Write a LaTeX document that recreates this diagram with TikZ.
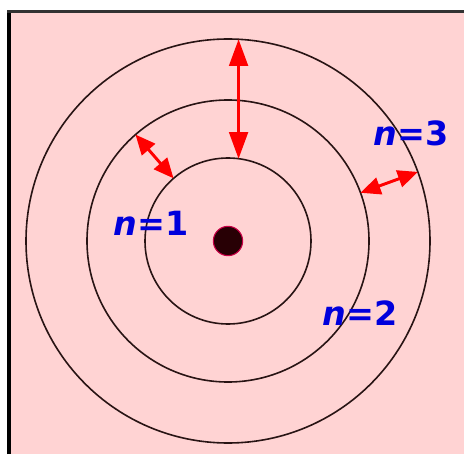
\documentclass[tikz,border=0pt]{standalone}
\usepackage{fontspec}
\setmainfont{DejaVu Sans}
\usetikzlibrary{arrows.meta}

\begin{document}
\begin{tikzpicture}[x=0.75pt, y=0.75pt,
    orbit/.style={circle, draw=orbitcolor, line width=1.2pt, inner sep=0pt, outer sep=0pt},
    gaparrow/.style={draw=arrowcolor, line width=2.2pt, {Triangle[length=20pt,width=14pt]}-{Triangle[length=20pt,width=14pt]}},
    shortgap/.style={gaparrow, {Triangle[length=15pt,width=13pt]}-{Triangle[length=15pt,width=13pt]}},
    nlabel/.style={text=labelcolor, font=\bfseries\fontsize{25}{30}\selectfont, inner sep=0pt}]
    % Define the colors
    \definecolor{backcolor}{RGB}{255, 211, 211}
    \definecolor{framecolor}{RGB}{50, 50, 50}
    \definecolor{orbitcolor}{RGB}{40, 20, 20}
    \definecolor{arrowcolor}{RGB}{255, 0, 0}
    \definecolor{labelcolor}{RGB}{0, 0, 220}
    \definecolor{nucleuscolor}{RGB}{40, 0, 5}
    \definecolor{nucleusedge}{RGB}{200, 0, 70}

    % Draw the background and the frame
    \useasboundingbox (0,0) rectangle (464,454);
    \fill[white] (0,0) rectangle (464,454);
    \fill[backcolor] (9,0) rectangle (464,442.5);
    \draw[black, line width=3pt] (9,0) -- (9,442.5);
    \draw[framecolor, line width=2.2pt] (7,442.5) -- (464,442.5);

    % Draw the orbits
    \coordinate (c) at (228,213);
    \node[orbit, minimum size=124.5pt] (orbit1) at (c) {};
    \node[orbit, minimum size=211.5pt] (orbit2) at (c) {};
    \node[orbit, minimum size=303pt] (orbit3) at (c) {};

    % Draw the nucleus
    \node[circle, fill=nucleuscolor, draw=nucleusedge, line width=0.8pt, minimum size=22pt, inner sep=0pt] (nucleus) at (c) {};

    % Draw the gaps between the orbits
    \draw[gaparrow] (orbit3.87) -- (orbit3.87 |- orbit1.82.6);
    \draw[shortgap] (orbit2.131.6) -- (orbit1.131.6);
    \draw[shortgap] (orbit2.20) -- (orbit3.20);

    % Draw the labels
    \node[nlabel] (n1) at (151,230.5) {\textit{n}=1};
    \node[nlabel] (n2) at (360,140.7) {\textit{n}=2};
    \node[nlabel] (n3) at (411,320.7) {\textit{n}=3};
\end{tikzpicture}
\end{document}
